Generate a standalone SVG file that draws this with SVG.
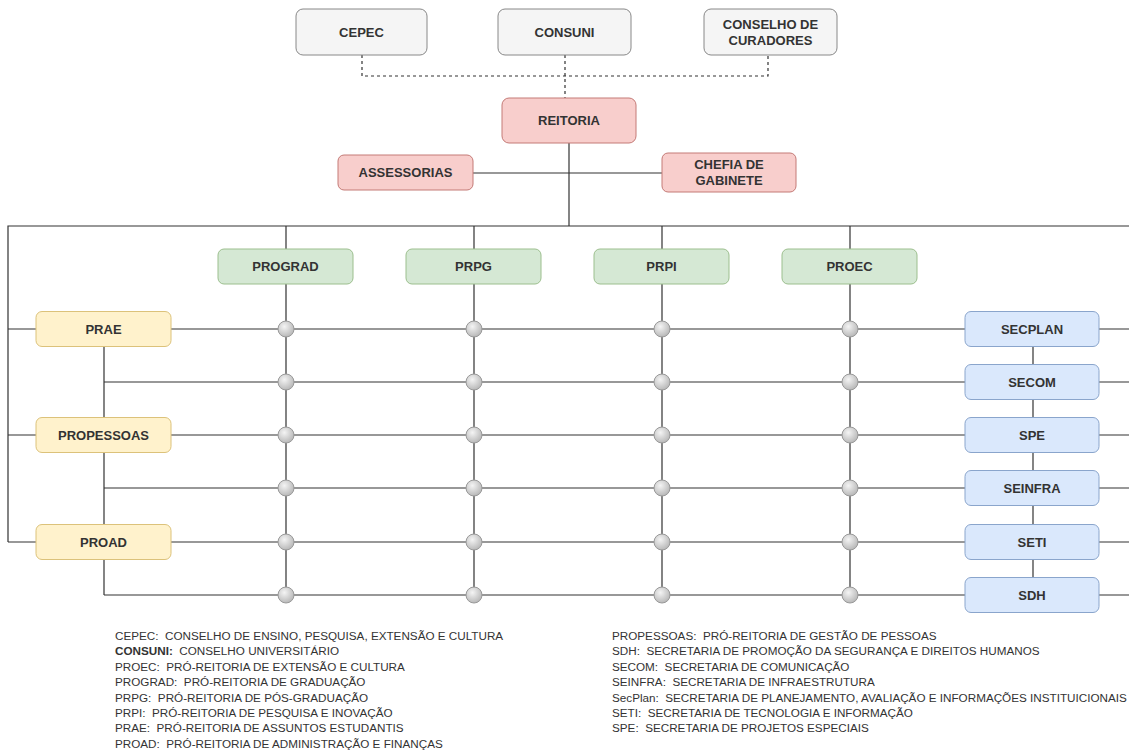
<svg xmlns="http://www.w3.org/2000/svg" width="1129" height="753" viewBox="0 0 1129 753">
<defs>
<radialGradient id="cg" cx="40%" cy="35%" r="70%">
<stop offset="0" stop-color="#f4f4f4"/>
<stop offset="1" stop-color="#b4b4b4"/>
</radialGradient>
<style>
.n text{font-family:"Liberation Sans",Arial,sans-serif;font-size:13px;font-weight:bold;fill:#333;text-anchor:middle;}
.gray rect{fill:#f5f5f5;stroke:#888;stroke-width:1;}
.red rect{fill:#f8cecc;stroke:#c47a76;stroke-width:1;}
.green rect{fill:#d5e8d4;stroke:#9cbf8e;stroke-width:1;}
.yellow rect{fill:#fff2cc;stroke:#dcc27a;stroke-width:1;}
.blue rect{fill:#dae8fc;stroke:#8aa5cc;stroke-width:1;}
.ln{fill:none;stroke:#333;stroke-width:1.2;}
.dash{fill:none;stroke:#333;stroke-width:1.2;stroke-dasharray:3 3;}
.j{fill:url(#cg);stroke:#999;stroke-width:1;}
.lg{font-family:"Liberation Sans",Arial,sans-serif;font-size:11.7px;fill:#333;white-space:pre;}
</style>
</defs>
<rect width="1129" height="753" fill="#fff"/>
<g id="connectors">
<path class="dash" d="M362 55 V76 H768 V55"/>
<path class="dash" d="M565 55 V98"/>
<path class="ln" d="M569 143 V226"/>
<path class="ln" d="M473 173 H662"/>
<path class="ln" d="M8 542 V226 H1129"/>
<path class="ln" d="M286 226 V595 M474 226 V595 M662 226 V595 M850 226 V595"/>
<path class="ln" d="M8 329 H36 M171 329 H965 M104 382 H965 M8 435 H36 M171 435 H965 M104 488 H965 M8 542 H36 M171 542 H965 M104 595 H965"/>
<path class="ln" d="M104 346 V595"/>
<path class="ln" d="M1033 346 V577"/>
<path class="ln" d="M1099 329 H1129 M1099 382 H1129 M1099 435 H1129 M1099 488 H1129 M1099 542 H1129 M1099 595 H1129"/>
</g>
<g id="junctions">
<circle class="j" cx="286" cy="329" r="8"/><circle class="j" cx="474" cy="329" r="8"/><circle class="j" cx="662" cy="329" r="8"/><circle class="j" cx="850" cy="329" r="8"/>
<circle class="j" cx="286" cy="382" r="8"/><circle class="j" cx="474" cy="382" r="8"/><circle class="j" cx="662" cy="382" r="8"/><circle class="j" cx="850" cy="382" r="8"/>
<circle class="j" cx="286" cy="435" r="8"/><circle class="j" cx="474" cy="435" r="8"/><circle class="j" cx="662" cy="435" r="8"/><circle class="j" cx="850" cy="435" r="8"/>
<circle class="j" cx="286" cy="488" r="8"/><circle class="j" cx="474" cy="488" r="8"/><circle class="j" cx="662" cy="488" r="8"/><circle class="j" cx="850" cy="488" r="8"/>
<circle class="j" cx="286" cy="542" r="8"/><circle class="j" cx="474" cy="542" r="8"/><circle class="j" cx="662" cy="542" r="8"/><circle class="j" cx="850" cy="542" r="8"/>
<circle class="j" cx="286" cy="595" r="8"/><circle class="j" cx="474" cy="595" r="8"/><circle class="j" cx="662" cy="595" r="8"/><circle class="j" cx="850" cy="595" r="8"/>
</g>
<g id="cepec" class="n gray"><rect x="296" y="9" width="131" height="46" rx="7"/><text x="361.5" y="37">CEPEC</text></g>
<g id="consuni" class="n gray"><rect x="498" y="9" width="133" height="46" rx="7"/><text x="564.5" y="37">CONSUNI</text></g>
<g id="curadores" class="n gray"><rect x="704" y="9" width="133" height="46" rx="7"/><text x="770.5" y="29">CONSELHO DE</text><text x="770.5" y="45">CURADORES</text></g>
<g id="reitoria" class="n red"><rect x="502" y="98" width="134" height="45" rx="7"/><text x="569" y="125">REITORIA</text></g>
<g id="assessorias" class="n red"><rect x="338" y="155" width="135" height="35" rx="6"/><text x="405.5" y="177">ASSESSORIAS</text></g>
<g id="chefia" class="n red"><rect x="662" y="153" width="134" height="39" rx="6"/><text x="729" y="169">CHEFIA DE</text><text x="729" y="185">GABINETE</text></g>
<g id="prograd" class="n green"><rect x="218" y="249" width="135" height="35" rx="6"/><text x="285.5" y="271">PROGRAD</text></g>
<g id="prpg" class="n green"><rect x="406" y="249" width="135" height="35" rx="6"/><text x="473.5" y="271">PRPG</text></g>
<g id="prpi" class="n green"><rect x="594" y="249" width="135" height="35" rx="6"/><text x="661.5" y="271">PRPI</text></g>
<g id="proec" class="n green"><rect x="782" y="249" width="135" height="35" rx="6"/><text x="849.5" y="271">PROEC</text></g>
<g id="prae" class="n yellow"><rect x="36" y="311.5" width="135" height="35" rx="6"/><text x="103.5" y="333.5">PRAE</text></g>
<g id="propessoas" class="n yellow"><rect x="36" y="417.5" width="135" height="35" rx="6"/><text x="103.5" y="439.5">PROPESSOAS</text></g>
<g id="proad" class="n yellow"><rect x="36" y="524.5" width="135" height="35" rx="6"/><text x="103.5" y="546.5">PROAD</text></g>
<g id="secplan" class="n blue"><rect x="965" y="311.5" width="134" height="35" rx="6"/><text x="1032" y="333.5">SECPLAN</text></g>
<g id="secom" class="n blue"><rect x="965" y="364.5" width="134" height="35" rx="6"/><text x="1032" y="386.5">SECOM</text></g>
<g id="spe" class="n blue"><rect x="965" y="417.5" width="134" height="35" rx="6"/><text x="1032" y="439.5">SPE</text></g>
<g id="seinfra" class="n blue"><rect x="965" y="470.5" width="134" height="35" rx="6"/><text x="1032" y="492.5">SEINFRA</text></g>
<g id="seti" class="n blue"><rect x="965" y="524.5" width="134" height="35" rx="6"/><text x="1032" y="546.5">SETI</text></g>
<g id="sdh" class="n blue"><rect x="965" y="577.5" width="134" height="35" rx="6"/><text x="1032" y="599.5">SDH</text></g>
<g id="legend-left">
<text class="lg" x="115" y="640">CEPEC:  CONSELHO DE ENSINO, PESQUISA, EXTENSÃO E CULTURA</text>
<text class="lg" x="115" y="655.4"><tspan font-weight="bold">CONSUNI:</tspan>  CONSELHO UNIVERSITÁRIO</text>
<text class="lg" x="115" y="670.8">PROEC:  PRÓ-REITORIA DE EXTENSÃO E CULTURA</text>
<text class="lg" x="115" y="686.2">PROGRAD:  PRÓ-REITORIA DE GRADUAÇÃO</text>
<text class="lg" x="115" y="701.6">PRPG:  PRÓ-REITORIA DE PÓS-GRADUAÇÃO</text>
<text class="lg" x="115" y="717">PRPI:  PRÓ-REITORIA DE PESQUISA E INOVAÇÃO</text>
<text class="lg" x="115" y="732.4">PRAE:  PRÓ-REITORIA DE ASSUNTOS ESTUDANTIS</text>
<text class="lg" x="115" y="747.8">PROAD:  PRÓ-REITORIA DE ADMINISTRAÇÃO E FINANÇAS</text>
</g>
<g id="legend-right">
<text class="lg" x="612" y="640">PROPESSOAS:  PRÓ-REITORIA DE GESTÃO DE PESSOAS</text>
<text class="lg" x="612" y="655.4">SDH:  SECRETARIA DE PROMOÇÃO DA SEGURANÇA E DIREITOS HUMANOS</text>
<text class="lg" x="612" y="670.8">SECOM:  SECRETARIA DE COMUNICAÇÃO</text>
<text class="lg" x="612" y="686.2">SEINFRA:  SECRETARIA DE INFRAESTRUTURA</text>
<text class="lg" x="612" y="701.6">SecPlan:  SECRETARIA DE PLANEJAMENTO, AVALIAÇÃO E INFORMAÇÕES INSTITUICIONAIS</text>
<text class="lg" x="612" y="717">SETI:  SECRETARIA DE TECNOLOGIA E INFORMAÇÃO</text>
<text class="lg" x="612" y="732.4">SPE:  SECRETARIA DE PROJETOS ESPECIAIS</text>
</g>
</svg>
